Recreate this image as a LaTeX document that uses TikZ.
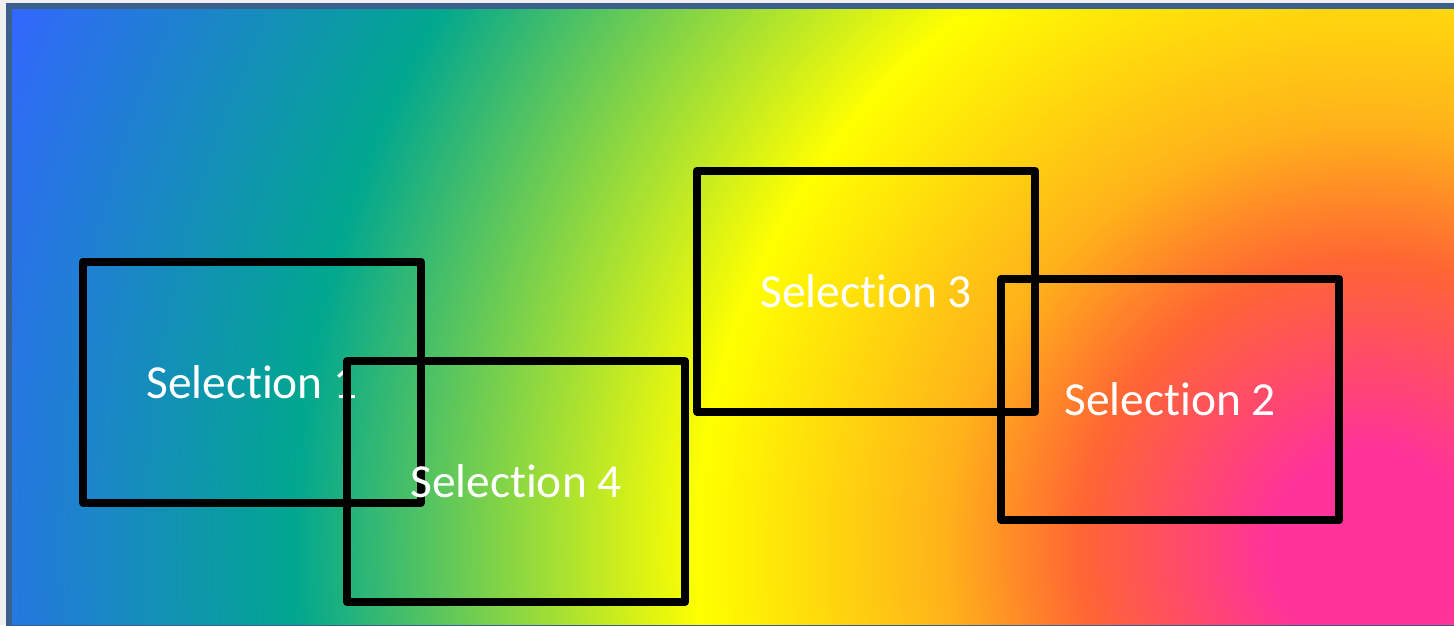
\documentclass[tikz,border=0pt]{standalone}
\usepackage{fontspec}
\setmainfont{Carlito}[Ligatures=NoCommon]
\definecolor{selpink}{HTML}{FF3399}
\definecolor{selred}{HTML}{FF6633}
\definecolor{selorange}{HTML}{FFB21A}
\definecolor{selyellow}{HTML}{FFFF00}
\definecolor{selteal}{HTML}{01A78F}
\definecolor{selblue}{HTML}{3366FF}
\definecolor{frameblue}{HTML}{3C608C}
\definecolor{paper}{HTML}{F0F0F0}
\pgfdeclareradialshading{rainbowcorner}{\pgfpointorigin}{color(0bp)=(selpink); color(1.8bp)=(selpink); color(5.2bp)=(selred); color(7.6bp)=(selorange); color(12bp)=(selyellow); color(19.2bp)=(selteal); color(26.2bp)=(selblue); color(50bp)=(selblue)}
\tikzset{selection/.style={draw=black, line width=0.08cm, line join=round, minimum width=3.38cm, minimum height=2.41cm, inner sep=0pt, text=white, font=\fontsize{13.5}{16}\selectfont}}
\newcommand{\selection}[4]{\node[selection] (#1) at (#2,#3) {#4};}

\begin{document}
\begin{tikzpicture}
    \useasboundingbox (0,0) rectangle (14.54,6.25);
    \fill[paper] (0,0) rectangle (14.54,6.25);
    % rainbow fill, centred low on the right
    \begin{scope}
        \clip (0.09,-0.1) rectangle (14.7,6.19);
        \shade[shading=rainbowcorner] (-0.3,-13.25) rectangle (27.7,14.75);
    \end{scope}
    \draw[frameblue, line width=0.055cm] (0.09,-0.03) rectangle (14.7,6.19);
    \selection{sel1}{2.52}{2.43}{Selection 1}
    \selection{sel2}{11.70}{2.255}{Selection 2}
    \selection{sel3}{8.66}{3.34}{Selection 3}
    \selection{sel4}{5.16}{1.435}{Selection 4}
\end{tikzpicture}
\end{document}
